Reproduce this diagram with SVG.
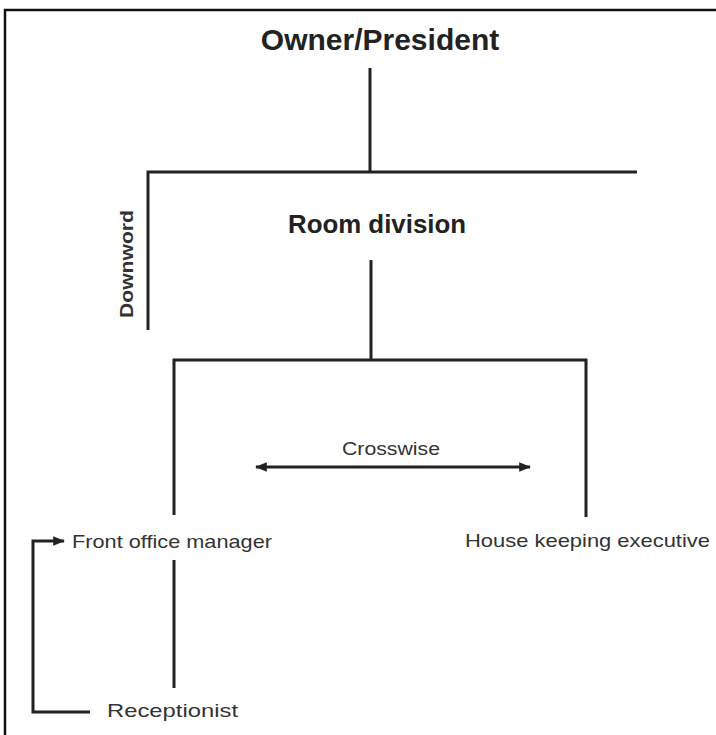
<svg xmlns="http://www.w3.org/2000/svg" width="716" height="735" viewBox="0 0 716 735">
<style>
.ln{stroke:#222;stroke-width:3;fill:none}
.t{font-family:"Liberation Sans",Arial,sans-serif;fill:#333;font-size:19px}
.b{font-family:"Liberation Sans",Arial,sans-serif;fill:#222;font-weight:bold}
</style>
<defs>
<marker id="ah" viewBox="0 0 10 10" refX="9" refY="5" markerWidth="4" markerHeight="4" orient="auto-start-reverse" markerUnits="strokeWidth">
<path d="M0,1 L10,5 L0,9 z" fill="#222"/>
</marker>
</defs>
<rect width="716" height="735" fill="#fff"/>
<path d="M5,735 V10 H716" stroke="#111" stroke-width="2.5" fill="none"/>
<g id="owner"><text class="b" x="380" y="50" font-size="30" text-anchor="middle">Owner/President</text></g>
<g id="room"><text class="b" x="377" y="233" font-size="25" text-anchor="middle" textLength="178" lengthAdjust="spacingAndGlyphs">Room division</text></g>
<g id="front"><text class="t" x="72" y="548" textLength="200" lengthAdjust="spacingAndGlyphs">Front office manager</text></g>
<g id="house"><text class="t" x="465" y="547" textLength="245" lengthAdjust="spacingAndGlyphs">House keeping executive</text></g>
<g id="recep"><text class="t" x="107" y="717" textLength="131" lengthAdjust="spacingAndGlyphs">Receptionist</text></g>
<g id="labels">
<text class="t" x="391" y="455" text-anchor="middle" textLength="98" lengthAdjust="spacingAndGlyphs">Crosswise</text>
<text class="t" transform="translate(133,264) rotate(-90)" text-anchor="middle" font-size="17" textLength="108" lengthAdjust="spacingAndGlyphs" font-weight="bold">Downword</text>
</g>
<g id="connectors">
<line class="ln" x1="370" y1="68" x2="370" y2="172"/>
<path class="ln" d="M637,172 H148 V330"/>
<line class="ln" x1="371" y1="260" x2="371" y2="360"/>
<path class="ln" d="M174,515 V360 H586 V517"/>
<line class="ln" x1="256" y1="467" x2="530" y2="467" marker-start="url(#ah)" marker-end="url(#ah)"/>
<line class="ln" x1="174" y1="560" x2="174" y2="688"/>
<path class="ln" d="M90,712 H33 V541 H64" marker-end="url(#ah)"/>
</g>
</svg>
